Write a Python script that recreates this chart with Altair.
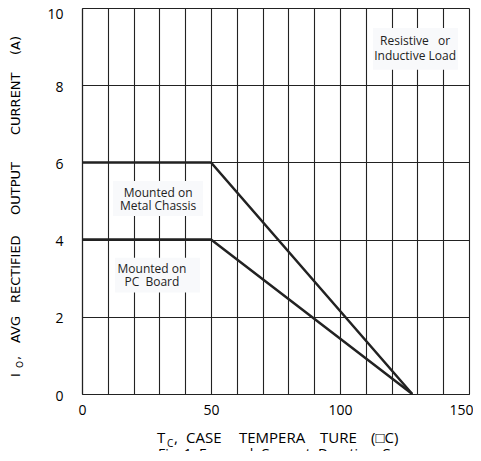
import altair as alt
import pandas as pd

# ---- data ----
temps_metal = [0, 50, 128]
amps_metal = [6, 6, 0]
temps_pc = [0, 50, 128]
amps_pc = [4, 4, 0]

x_ticks = list(range(0, 151, 10))
y_ticks = [0, 2, 4, 6, 8, 10]

NB = "\u00a0"
label_lines = ["Mounted on", "Metal Chassis", "Mounted on", "PC" + NB * 2 + "Board",
               "Resistive" + NB * 3 + "or", "Inductive Load"]
label_x = [29.5, 29.5, 27.1, 27.1, 129.1, 129.1]
label_y = [5.21, 4.87, 3.25, 2.91, 9.15, 8.76]

box_x = [12.0, 12.8, 112.8]
box_x2 = [46.9, 45.7, 145.7]
box_y = [4.61, 2.63, 8.40]
box_y2 = [5.52, 3.53, 9.48]

FONT = "Open Sans"
TFONT = "DejaVu Sans"
INK = "#222222"

lines_df = pd.DataFrame({
    "t": temps_metal + temps_pc,
    "i": amps_metal + amps_pc,
    "series": ["Metal Chassis"] * 3 + ["PC Board"] * 3,
    "order": [0, 1, 2, 0, 1, 2],
})
boxes_df = pd.DataFrame({"x": box_x, "x2": box_x2, "y": box_y, "y2": box_y2})
labels_df = pd.DataFrame({"x": label_x, "y": label_y, "text": label_lines})

xscale = alt.Scale(domain=[0, 150], nice=False, zero=False)
yscale = alt.Scale(domain=[0, 10], nice=False)

base = alt.Chart(lines_df)

lines = base.mark_line(color=INK, strokeWidth=2.5, strokeCap="butt").encode(
    x=alt.X("t:Q", scale=xscale,
            axis=alt.Axis(values=x_ticks, tickCount=40, format="d",
                          labelExpr="datum.value % 50 == 0 ? datum.label : ''",
                          labelOverlap=False, labelFlush=True, labelFlushOffset=4,
                          title=None, grid=True, gridColor=INK, gridWidth=1.1, gridOpacity=1,
                          ticks=False, tickSize=0, labelPadding=9, labelFontSize=14,
                          labelFont=FONT, labelColor="#000", domainColor=INK, domainWidth=1.2)),
    y=alt.Y("i:Q", scale=yscale,
            axis=alt.Axis(values=y_ticks, tickCount=20, format="d", title=None, grid=True,
                          gridColor=INK, gridWidth=1.1, labelOverlap=False,
                          gridOpacity=1, ticks=False, tickSize=0, labelPadding=19, labelFontSize=14,
                          labelFont=FONT, labelColor="#000", domainColor=INK, domainWidth=1.2,
                          labelOffset={"condition": {"test": "datum.value == 10", "value": 6},
                                       "value": 2},
                          labelFlush=False)),
    detail="series:N",
    order="order:Q",
)

boxes = alt.Chart(boxes_df).mark_rect(fill="#f8f9fb").encode(
    x=alt.X("x:Q", scale=xscale), x2="x2:Q",
    y=alt.Y("y:Q", scale=yscale), y2="y2:Q",
)

labels = alt.Chart(labels_df).mark_text(font=FONT, fontSize=12, color="#222", align="center",
                                        baseline="middle").encode(
    x=alt.X("x:Q", scale=xscale), y=alt.Y("y:Q", scale=yscale), text="text:N"
)

one = pd.DataFrame({"k": [0]})


def piece(text, px, py, size=14, angle=0, font=FONT):
    kw = dict(text=text, font=font, fontSize=size, color="#000", align="left",
              baseline="alphabetic")
    if angle:
        kw["angle"] = angle
    return alt.Chart(one).mark_text(**kw).encode(x=alt.value(px), y=alt.value(py))


x_title = [
    piece("T", 75, 435, 15),
    piece("C", 85, 439, 10),
    piece(",", 92, 435, 15),
    piece("CASE", 104, 435, 15),
    piece("TEMPERA", 157, 435, 15),
    piece("TURE", 238, 435, 15),
    piece("(\u25a1C)", 289, 435, 15),
]
caption = [piece("Fig. 1" + NB * 2 + "Forward" + NB * 2 + "Current" + NB * 2 + "Derating" + NB * 2 + "Curve",
                 76, 451, 14)]

y_title = [
    piece("I", -62, 369, 13, 270, TFONT),
    piece("O", -59, 360, 9, 270, TFONT),
    piece(",", -62, 352, 13, 270, TFONT),
    piece("AVG", -62, 335, 13, 270, TFONT),
    piece("RECTIFIED", -62, 295, 13, 270, TFONT),
    piece("OUTPUT", -62, 207, 13, 270, TFONT),
    piece("CURRENT", -62, 127, 13, 270, TFONT),
    piece("(A)", -62, 47, 13, 270, TFONT),
]

chart = alt.layer(lines, boxes, labels, *x_title, *caption, *y_title).properties(
    width=387, height=386,
    autosize=alt.AutoSizeParams(type="none"),
    padding={"left": 74, "top": 0, "right": 4, "bottom": 57},
).configure_view(stroke=INK, strokeWidth=1.2).configure(background="white")

chart.save("out.html", embed_options={"renderer": "svg", "actions": False})
